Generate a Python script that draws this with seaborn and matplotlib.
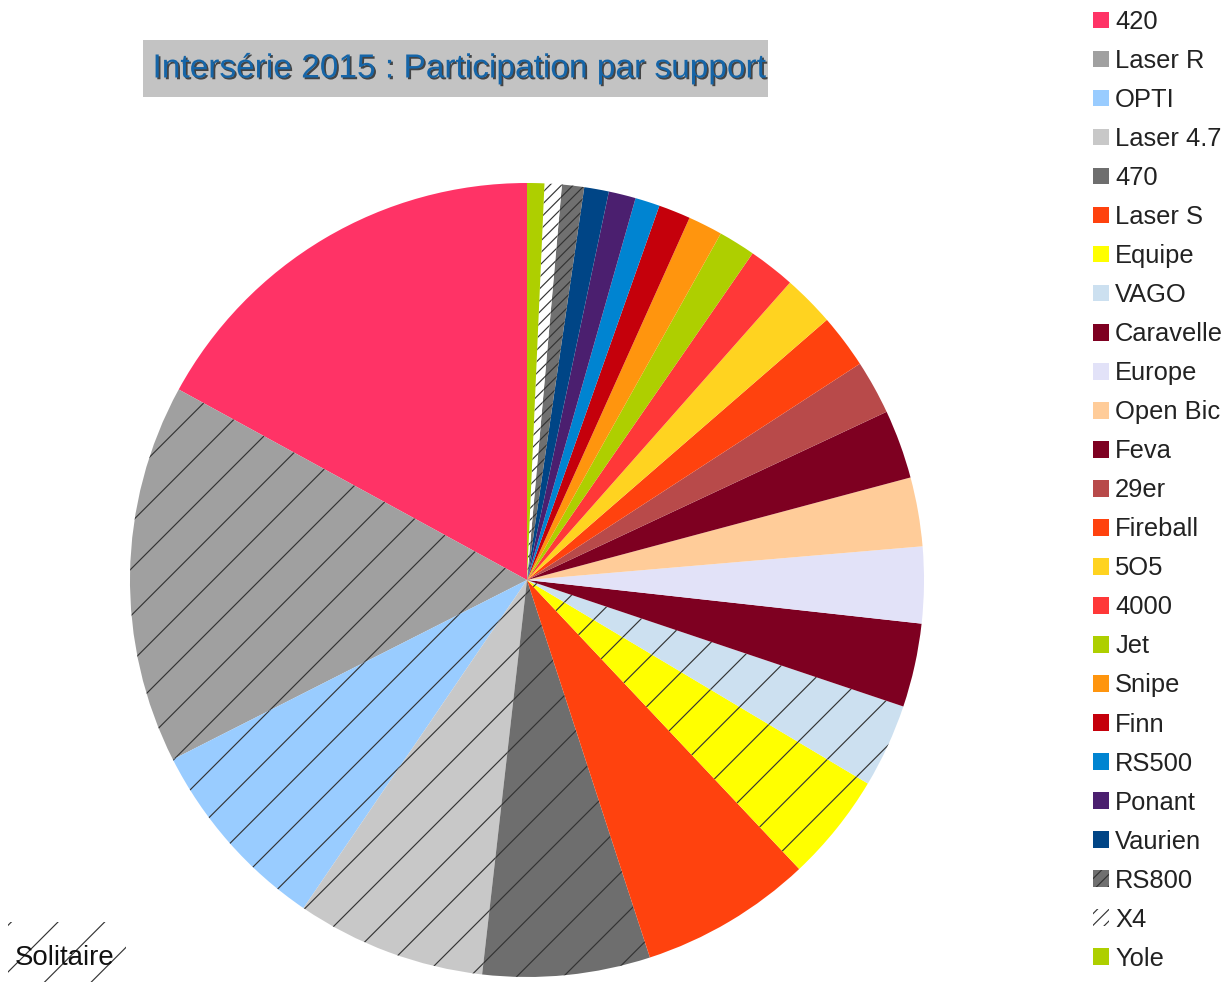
import numpy as np
import matplotlib
matplotlib.use("Agg")
import matplotlib.pyplot as plt
import matplotlib.patheffects as pe
from matplotlib.patches import Rectangle, Patch
import seaborn as sns

# Data (share of participants, in %)
supports = ["420", "Laser R", "OPTI", "Laser 4.7", "470", "Laser S", "Equipe",
            "VAGO", "Caravelle", "Europe", "Open Bic", "Feva", "29er", "Fireball",
            "5O5", "4000", "Jet", "Snipe", "Finn", "RS500", "Ponant", "Vaurien",
            "RS800", "X4", "Yole"]
parts = [17.0, 15.4, 8.0, 7.7, 6.8, 7.0, 4.4, 3.4, 3.4, 3.1, 2.8, 2.8, 2.2, 2.2,
         2.1, 1.9, 1.5, 1.4, 1.3, 1.0, 1.1, 1.0, 0.9, 0.7, 0.7]
couleurs = ["#ff3366", "#a0a0a0", "#99ccff", "#c8c8c8", "#6e6e6e", "#ff420e",
            "#ffff00", "#cce0f0", "#7e0021", "#e2e2f8", "#ffcc99", "#7e0021",
            "#b84a4a", "#ff420e", "#ffd320", "#ff3838", "#aecf00", "#ff950e",
            "#c5000b", "#0084d1", "#4b1f6f", "#004586", "#707070", "#ffffff",
            "#aecf00"]
# hatched = single-handed boats
hachures = ["", "/", "/", "/", "/", "", "/", "/", "", "", "", "", "", "", "",
            "", "", "", "", "", "", "", "////", "////", ""]

sns.set_theme(style="white")
plt.rcParams["font.family"] = ["Liberation Sans", "DejaVu Sans"]
plt.rcParams["hatch.linewidth"] = 0.6
plt.rcParams["hatch.color"] = "#333333"

W, H, DPI = 1225, 982, 140
fig = plt.figure(figsize=(W / DPI, H / DPI), dpi=DPI)
fig.patch.set_facecolor("white")

# pie axes : centre (527, 580) px, radius 397 px
cx, cy, r = 527, 580, 397
ax = fig.add_axes([(cx - r) / W, (H - cy - r) / H, 2 * r / W, 2 * r / H])
wedges, _ = ax.pie(parts, colors=couleurs, startangle=90, counterclock=True,
                   radius=1, wedgeprops=dict(linewidth=0))
for w, h in zip(wedges, hachures):
    w.set_edgecolor("#333333")
    w.set_linewidth(0)
    if h:
        w.set_hatch(h)
ax.set_xlim(-1, 1)
ax.set_ylim(-1, 1)
ax.set_aspect("equal")
ax.axis("off")

# title with grey box
fig.patches.append(Rectangle((143 / W, 1 - 97 / H), (768 - 143) / W, 57 / H,
                             transform=fig.transFigure, facecolor="#c3c3c3",
                             edgecolor="none", zorder=1))
t = fig.text(458 / W, 1 - 69 / H, "Intersérie 2015 : Participation par support",
             ha="center", va="center", fontsize=17.2, color="#1565a8", zorder=2)
t.set_path_effects([pe.SimplePatchShadow(offset=(0.9, -0.9), shadow_rgbFace="#1a1a1a",
                                         alpha=0.75), pe.Normal()])

# legend: plain squares, only the dense hatches show in the keys
poignees = []
for c, h in zip(couleurs, hachures):
    p = Patch(facecolor=c, edgecolor="#333333", linewidth=0)
    if h == "////":
        p.set_hatch(h)
    poignees.append(p)
leg = fig.legend(handles=poignees, labels=supports, loc="upper left",
                 bbox_to_anchor=(1093 / W, 1 - 10 / H), frameon=False,
                 fontsize=13.1, handlelength=0.62, handleheight=0.62,
                 handletextpad=0.25, labelspacing=0.59, borderaxespad=0,
                 borderpad=0)
for txt in leg.get_texts():
    txt.set_color("#222222")

# "Solitaire" key (hatch = single-handed)
fig.patches.append(Rectangle((8 / W, 0), 118 / W, 60 / H, transform=fig.transFigure,
                             facecolor="none", edgecolor="#333333", linewidth=0,
                             hatch="/", zorder=1))
fig.text(15 / W, 1 - 958 / H, "Solitaire", ha="left", va="center", fontsize=14.2,
         color="#111111", zorder=2)

fig.savefig("out.png", dpi=DPI, facecolor="white")
